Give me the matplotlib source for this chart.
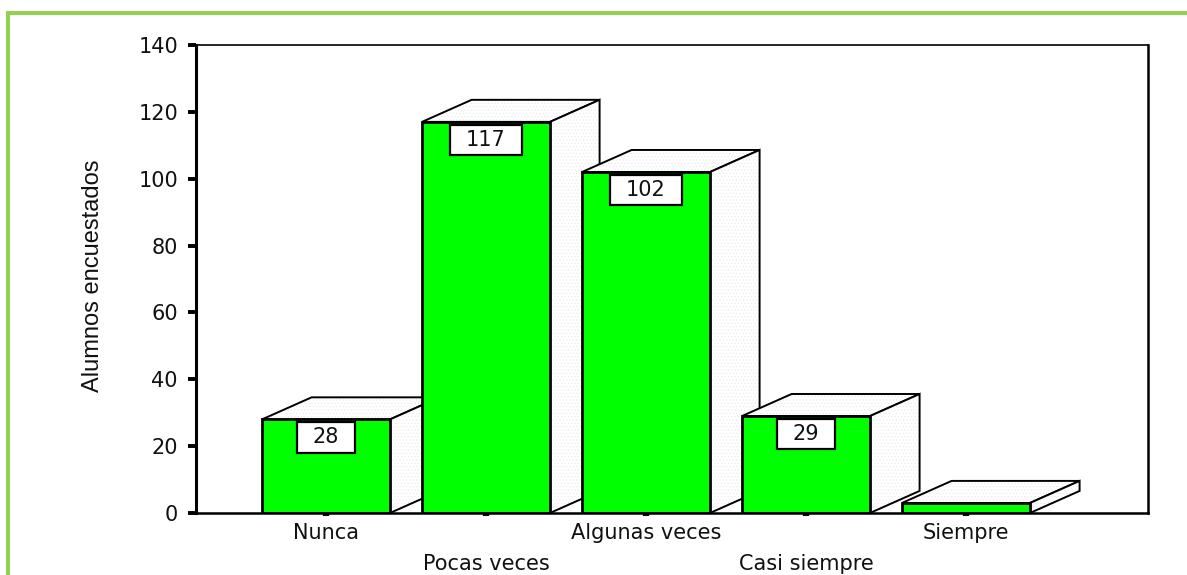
import matplotlib
matplotlib.use("Agg")
import matplotlib.pyplot as plt
from matplotlib.patches import Polygon, Rectangle

plt.rcParams['hatch.linewidth'] = 0.3

categories = ['Nunca', 'Pocas veces', 'Algunas veces', 'Casi siempre', 'Siempre']
values = [28, 117, 102, 29, 3]
bar_labels = ['28', '117', '102', '29', None]
y_ticks = [0, 20, 40, 60, 80, 100, 120, 140]

W, H = 1187, 575
L, R, T, B = 196, 1148, 45, 513
bar_w = 0.8
dx, dy = 0.31, 6.6
green = '#92D050'
tick_font = dict(family='DejaVu Sans', fontsize=15, color='#111111')

fig = plt.figure(figsize=(W / 100, H / 100), dpi=100, facecolor='white')

# green frame, top and left only
fig.add_artist(Rectangle((6 / W, 1 - 15 / H), 1 - 6 / W, 4 / H, transform=fig.transFigure, color=green, lw=0))
fig.add_artist(Rectangle((6 / W, 0), 4 / W, 1 - 11 / H, transform=fig.transFigure, color=green, lw=0))

ax = fig.add_axes([L / W, 1 - B / H, (R - L) / W, (B - T) / H])
ax.set_xlim((L - 326) / 160, (R - 326) / 160)
ax.set_ylim(0, 140)

for i, v in enumerate(values):
    x0, x1 = i - bar_w / 2, i + bar_w / 2
    top = [(x0, v), (x1, v), (x1 + dx, v + dy), (x0 + dx, v + dy)]
    side = [(x1, 0), (x1 + dx, dy), (x1 + dx, v + dy), (x1, v)]
    z = 3 + i
    for pts in (top, side):
        ax.add_patch(Polygon(pts, facecolor='white', edgecolor='#e4e4e4', hatch='.....', lw=0, zorder=z))
        ax.add_patch(Polygon(pts, fill=False, edgecolor='black', lw=1.4, joinstyle='miter', zorder=z))
    ax.bar(i, v, bar_w, color='#00FF00', edgecolor='black', linewidth=2, zorder=z)
    if bar_labels[i]:
        box_w = 0.45 if len(bar_labels[i]) == 3 else 0.36
        ax.add_patch(Rectangle((i - box_w / 2, v - 10), box_w, 9.2, facecolor='white',
                               edgecolor='black', lw=1.6, zorder=z))
        ax.text(i, v - 5.3, bar_labels[i], ha='center', va='center', zorder=z, **tick_font)

ax.set_xticks(range(len(categories)))
ax.set_xticklabels(categories, **tick_font)
ax.set_yticks(y_ticks)
ax.set_yticklabels(y_ticks, **tick_font)
ax.tick_params(axis='y', length=6, width=2.8, pad=7)
ax.tick_params(axis='x', length=2.5, width=4.5)
# two rows of category labels
for i, tick in enumerate(ax.xaxis.get_major_ticks()):
    tick.set_pad(4.5 if i % 2 == 0 else 27)

ax.set_ylabel('Alumnos encuestados', family='Liberation Sans', fontsize=17, color='#111111')
ax.yaxis.set_label_coords((104 - L) / (R - L), (B - 276) / (B - T))

ax.spines['left'].set_linewidth(2.2)
ax.spines['bottom'].set_linewidth(1.8)
ax.spines['right'].set_linewidth(1.8)
ax.spines['top'].set_linewidth(1.2)
for s in ax.spines.values():
    s.set_zorder(2)
ax.spines['bottom'].set_zorder(20)

fig.savefig('out.png', dpi=100)
